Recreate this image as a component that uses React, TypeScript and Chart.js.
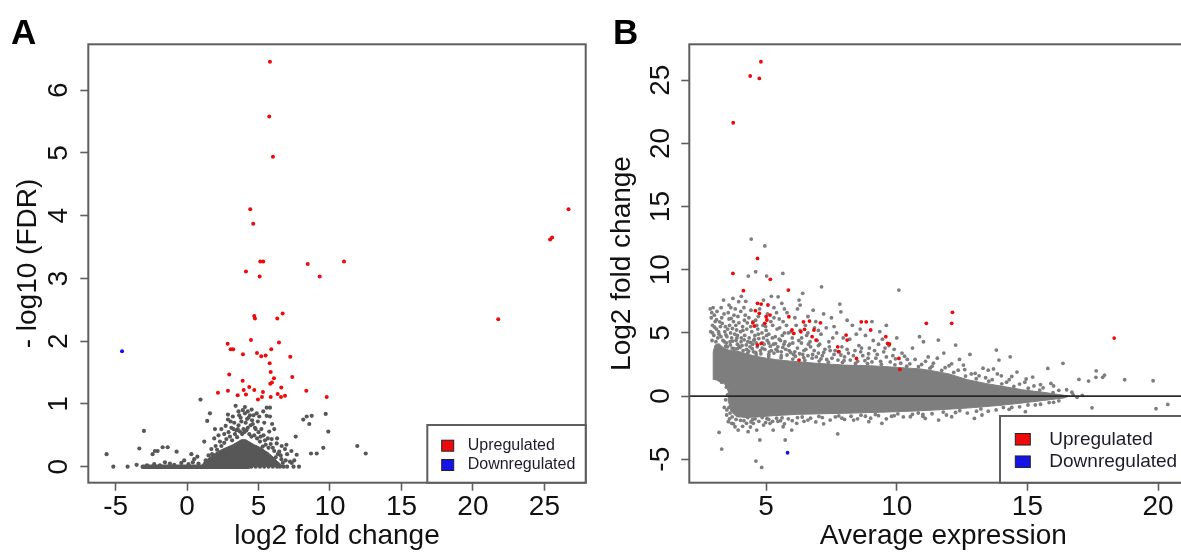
import React, { useEffect, useRef } from 'react';
import { Chart, registerables } from 'chart.js';

Chart.register(...registerables);

type P = [number, number];

// ---------------- Panel A : volcano plot ----------------
const A_X_TICKS = [-5, 0, 5, 10, 15, 20, 25];
const A_Y_TICKS = [0, 1, 2, 3, 4, 5, 6];
const A_X_RANGE: P = [-6.91, 27.89];
const A_Y_RANGE: P = [-0.255, 6.73];
const A_X_TITLE = 'log2 fold change';
const A_Y_TITLE = '- log10 (FDR)';

const A_UP: P[] = [
  [5.80, 6.45], [5.75, 5.58], [6.01, 4.94], [4.42, 4.10], [4.63, 3.87], [5.12, 3.27], [5.33, 3.27],
  [4.12, 3.11], [5.08, 3.03], [8.44, 3.23], [10.98, 3.27], [9.28, 3.03], [26.69, 4.10], [25.40, 3.62],
  [25.54, 3.65], [21.77, 2.35], [4.70, 2.40], [4.75, 2.36], [6.69, 2.44], [6.31, 2.36], [2.84, 1.96],
  [4.47, 2.02], [6.43, 1.98], [3.05, 1.87], [3.23, 1.87], [3.91, 1.79], [4.89, 1.81], [5.19, 1.76],
  [5.50, 1.77], [5.89, 1.87], [7.22, 1.75], [5.78, 1.65], [5.85, 1.51], [2.95, 1.47], [7.36, 1.43],
  [6.08, 1.41], [3.89, 1.37], [5.94, 1.34], [5.82, 1.32], [4.35, 1.27], [3.96, 1.22], [4.70, 1.22],
  [6.59, 1.26], [2.16, 1.18], [2.86, 1.21], [4.12, 1.15], [5.31, 1.19], [8.34, 1.21], [3.54, 1.14],
  [6.34, 1.16], [6.57, 1.11], [6.85, 1.13], [4.96, 1.07], [5.24, 1.11], [5.85, 1.11], [9.77, 1.11],
];
const A_DOWN: P[] = [[-4.55, 1.84]];
const A_NS: P[] = [
  [-5.63, 0.20], [-5.16, 0], [-4.16, 0], [-3.53, 0.03], [-3.34, 0.29], [-3.02, 0.57], [-2.41, 0.20],
  [-2.25, 0.25], [-2.06, 0.25], [-1.71, 0.31], [-1.36, 0.31], [-0.73, 0.24], [0.72, 0.16], [-1.55, 0.07],
  [0.94, 1.07], [1.60, 0.85], [1.41, 0.73], [3.40, 0.97], [5.57, 0.94], [5.80, 0.94], [4.52, 0.91],
  [5.33, 0.88], [2.86, 0.83], [2.86, 0.75], [3.65, 0.82], [4.05, 0.85], [4.40, 0.82], [4.87, 0.85],
  [5.05, 0.80], [5.57, 0.81], [5.80, 0.80], [8.13, 0.75], [8.37, 0.80], [8.72, 0.81], [8.55, 0.68],
  [9.70, 0.84], [9.88, 0.56], [7.60, 0.48], [11.91, 0.33], [12.50, 0.21], [9.53, 0.30], [8.67, 0.21],
  [9.07, 0.21], [7.67, 0.19], [7.83, 0], [7.20, 0.08], [7.32, 0.06], [6.62, 0.33], [6.85, 0.28],
  [6.27, 0.37], [6.45, 0.24], [5.92, 0.44], [5.75, 0.56], [5.45, 0.42], [5.29, 0.32], [5.57, 0.21],
  [3.10, 0.62], [3.30, 0.70], [3.60, 0.66], [3.80, 0.72], [4.10, 0.70], [4.25, 0.62], [4.60, 0.68],
  [4.80, 0.60], [5.00, 0.55], [4.30, 0.78], [3.95, 0.60], [2.60, 0.52], [2.30, 0.40], [2.00, 0.33],
  [1.70, 0.28], [1.50, 0.18], [2.90, 0.55], [3.45, 0.58], [5.15, 0.48], [6.00, 0.30], [6.20, 0.15],
  [6.60, 0.12], [6.90, 0.10], [7.00, 0.20], [1.90, 0.45], [2.20, 0.50],
  [2.1, 0.27], [2.4, 0.33], [2.6, 0.38], [2.75, 0.44], [3.0, 0.48], [3.15, 0.42], [3.35, 0.52], [3.5, 0.47],
  [3.55, 0.6], [3.7, 0.56], [3.75, 0.78], [3.85, 0.52], [3.9, 0.9], [4.0, 0.55], [4.15, 0.58], [4.2, 0.76],
  [4.35, 0.52], [4.45, 0.66], [4.5, 0.48], [4.55, 0.74], [4.7, 0.5], [4.75, 0.62], [4.9, 0.45], [4.95, 0.72],
  [5.1, 0.4], [5.2, 0.6], [5.35, 0.5], [5.5, 0.35], [5.65, 0.45], [5.7, 0.3], [5.85, 0.36], [6.1, 0.25],
  [6.35, 0.2], [6.55, 0.18], [6.7, 0.06], [2.5, 0.2], [1.3, 0.1], [1.75, 0.2], [3.25, 0.6], [4.05, 0.95],
  [4.25, 0.88], [3.6, 0.88], [3.2, 0.8], [2.7, 0.65], [3.05, 0.72], [6.3, 0.45], [6.95, 0.35], [7.3, 0.25],
  [7.5, 0.1], [4.65, 0.82], [5.4, 0.7], [6.1, 0.6], [5.95, 0.68], [2.4, 0.6], [1.95, 0.6], [1.2, 0.4],
  [0.5, 0.12], [-0.2, 0.1], [0.3, 0.2],
  [-2.8, 0.02], [-2.3, 0.04], [-1.9, 0.02], [-1.2, 0.05], [-0.9, 0.03], [-0.4, 0.06], [0.1, 0.04],
  [0.4, 0.07], [0.8, 0.05],
  [4.5, 0], [4.8, 0], [5.1, 0], [5.4, 0], [5.7, 0], [6.0, 0], [6.3, 0], [6.5, 0], [6.75, 0], [7.0, 0], [7.45, 0],
];
// outline of the densest, fully overlapping part of the grey cloud
const A_NS_CORE: P[] = [
  [1.0, 0], [1.2, 0.08], [1.6, 0.15], [2.0, 0.22], [2.4, 0.27], [2.8, 0.31], [3.2, 0.35], [3.5, 0.39],
  [3.8, 0.43], [4.1, 0.43], [4.4, 0.39], [4.7, 0.35], [5.0, 0.32], [5.3, 0.28], [5.6, 0.23], [5.9, 0.18],
  [6.2, 0.11], [6.5, 0.05], [6.7, 0],
];
// run of overlapping genes with FDR = 1
const A_NS_BAND: P[] = [[-3.1, 0], [4.3, 0]];

// ---------------- Panel B : MA plot ----------------
const B_X_TICKS = [5, 10, 15, 20];
const B_Y_TICKS = [-5, 0, 5, 10, 15, 20, 25];
const B_X_RANGE: P = [2.06, 21.5];
const B_Y_RANGE: P = [-6.86, 27.85];
const B_X_TITLE = 'Average expression';
const B_Y_TITLE = 'Log2 fold change';
const B_BASELINE = 0;

const B_UP: P[] = [
  [4.80, 26.47], [4.39, 25.34], [4.74, 25.15], [3.74, 21.64], [4.67, 10.90], [3.73, 9.71], [5.16, 9.24],
  [4.13, 8.34], [5.85, 8.39], [4.67, 7.34], [4.81, 7.28], [5.07, 7.21], [4.59, 6.76], [4.74, 6.55],
  [5.0, 6.28], [5.15, 6.41], [5.87, 6.28], [6.43, 5.88], [6.66, 5.94], [7.08, 5.80], [8.64, 5.88],
  [8.83, 5.88], [9.0, 5.23], [4.49, 5.80], [4.55, 5.54], [5.03, 6.02], [4.95, 5.76], [4.81, 4.17],
  [4.67, 4.04], [5.99, 5.23], [6.06, 4.96], [6.33, 5.09], [6.47, 5.28], [6.83, 5.23], [6.76, 4.70],
  [6.91, 4.43], [7.74, 3.90], [7.77, 3.51], [8.06, 4.83], [8.10, 4.43], [9.58, 4.70], [9.65, 4.17],
  [9.72, 4.12], [6.26, 2.85], [8.46, 2.98], [10.08, 2.98], [10.12, 2.11], [11.13, 5.76], [12.13, 6.63],
  [12.10, 5.76], [18.32, 4.59],
];
const B_DOWN: P[] = [[5.82, -4.49]];
const B_NS: P[] = [
  [2.86, 6.9], [2.92, 6.6], [2.97, 7.0], [3.02, 6.4], [2.9, 6.2], [3.05, 5.9], [2.95, 5.6], [3.1, 5.3],
  [2.88, 5.1], [3.0, 4.8], [3.15, 4.6], [2.93, 4.4], [3.2, 4.9], [3.25, 5.5], [3.12, 6.7], [3.3, 6.2], [3.08, 4.3],
  [3.37, 7.6], [3.58, 7.2], [3.73, 7.73], [3.95, 7.47], [3.22, 5.88], [3.44, 5.49], [3.66, 6.15], [3.87, 5.23],
  [3.5, 4.7], [3.62, 4.3], [3.8, 4.9], [3.9, 4.1], [4.05, 4.6], [4.1, 5.5], [4.2, 6.4], [4.3, 4.3], [4.38, 3.9],
  [4.45, 5.1], [3.45, 3.95], [3.7, 3.8], [4.0, 3.85], [4.25, 3.7], [3.55, 6.6], [3.82, 6.9], [4.15, 7.0],
  [3.35, 4.4], [3.42, 5.1], [3.48, 4.2], [3.6, 5.6], [3.68, 4.6], [3.75, 5.9], [3.85, 4.4], [3.92, 6.3],
  [4.02, 5.1], [4.08, 4.0], [4.18, 4.8], [4.28, 5.8], [4.35, 4.6], [4.42, 6.8], [4.48, 4.1], [3.28, 7.0],
  [3.65, 7.0], [4.05, 7.9], [4.22, 7.5],
  [4.43, 12.43], [4.95, 11.89], [4.32, 9.5], [4.60, 9.84], [5.02, 9.5], [5.64, 9.71], [7.12, 8.65],
  [5.46, 7.86], [5.6, 7.34], [6.26, 7.6], [6.4, 8.13], [7.82, 7.28], [7.86, 6.67], [10.08, 8.39],
  [4.55, 4.5], [4.7, 4.9], [4.85, 3.8], [4.9, 4.6], [5.0, 5.2], [5.1, 4.2], [5.2, 3.6], [5.25, 5.6],
  [5.35, 4.7], [5.45, 3.9], [5.5, 6.1], [5.55, 4.4], [5.7, 5.0], [5.75, 3.7], [5.8, 6.6], [5.9, 4.1],
  [4.6, 6.0], [4.75, 6.9], [5.05, 6.5], [5.3, 7.0], [4.52, 3.5], [4.62, 4.2], [4.68, 5.3], [4.78, 3.6],
  [4.88, 5.6], [4.92, 4.1], [5.02, 4.8], [5.12, 3.5], [5.18, 5.9], [5.28, 4.1], [5.38, 3.7], [5.42, 5.3],
  [5.58, 3.5], [5.62, 4.8], [5.68, 4.1], [5.78, 5.6], [5.88, 3.6], [5.95, 5.1], [4.9, 7.6], [5.2, 7.9],
  [5.7, 6.9], [5.4, 6.6],
  [6.0, 4.6], [6.1, 3.5], [6.15, 5.6], [6.2, 6.9], [6.35, 4.2], [6.45, 3.6], [6.55, 4.8], [6.6, 6.3],
  [6.7, 3.9], [6.85, 5.4], [6.95, 4.4], [7.0, 3.4], [6.05, 3.3], [6.25, 4.4], [6.4, 3.3], [6.5, 5.6],
  [6.62, 4.1], [6.78, 3.3], [6.9, 5.9], [7.05, 4.1], [7.15, 3.2], [7.3, 5.4], [7.45, 3.6], [6.3, 7.2],
  [6.8, 6.8], [7.2, 6.5],
  [7.1, 4.9], [7.25, 3.7], [7.4, 4.3], [7.5, 6.2], [7.6, 3.3], [7.7, 5.0], [7.9, 3.9], [8.0, 3.1],
  [8.2, 4.5], [8.3, 5.6], [8.4, 3.6], [8.55, 4.0], [8.7, 3.2], [8.8, 4.8], [8.95, 3.8], [9.1, 4.4],
  [9.2, 3.0], [9.35, 5.1], [9.5, 3.5], [9.7, 4.0], [9.85, 3.2], [10.0, 4.6], [10.2, 3.4], [8.1, 6.0],
  [9.05, 5.9], [7.55, 4.6], [7.8, 3.5], [7.95, 4.6], [8.15, 3.4], [8.45, 4.9], [8.65, 3.8], [8.9, 3.0],
  [9.15, 3.6], [9.45, 4.5], [9.6, 3.1], [9.9, 3.7], [9.6, 5.6],
  [10.4, 2.9], [10.6, 3.8], [10.87, 4.7], [11.02, 4.3], [11.2, 3.1], [11.4, 2.6], [11.59, 4.43], [11.8, 3.4],
  [12.0, 2.4], [12.25, 4.04], [12.4, 2.9], [12.6, 2.1], [12.8, 3.3], [13.0, 1.8], [13.3, 2.2], [13.5, 2.05],
  [13.7, 2.15], [13.81, 3.64], [13.91, 2.85], [14.34, 3.11], [14.0, 1.6], [14.3, 1.3], [14.6, 1.9],
  [14.9, 1.1], [15.2, 1.5], [15.5, 0.9], [15.78, 2.19], [16.0, 0.8], [16.36, 2.59], [16.5, 0.5], [16.7, 0.3],
  [16.97, 1.32], [17.34, 1.19], [17.63, 2.0], [17.62, 1.48], [17.88, 1.48], [17.95, 1.66], [18.72, 1.29],
  [19.81, 1.21], [17.47, -0.93], [19.92, -1.0], [20.37, -0.66], [16.9, -0.1], [16.75, 0.1], [17.1, 0.05],
  [3.9, 3.75], [4.3, 3.42], [4.62, 3.27], [5.1, 3.12], [5.57, 3.02], [6.02, 2.93], [6.48, 2.82], [7.03, 2.77],
  [7.38, 2.68], [7.92, 2.66], [8.42, 2.58], [8.88, 2.57], [9.41, 2.52], [9.93, 2.47], [10.38, 2.36],
  [10.83, 2.33], [11.27, 2.21], [11.72, 2.04], [12.18, 1.87], [12.63, 1.58], [13.04, 1.37], [13.52, 1.18],
  [14.02, 0.97], [14.48, 0.76], [15.03, 0.62], [15.47, 0.47], [15.98, 0.27],
  [3.4, 4.3], [3.52, 3.9], [3.63, 4.05], [3.72, 4.35], [3.78, 3.75], [3.88, 4.6], [3.97, 3.95], [4.04, 4.3],
  [4.12, 3.6], [4.16, 4.45], [4.24, 4.05], [4.33, 3.55], [4.4, 4.25], [4.47, 3.75], [4.53, 4.4], [4.6, 3.45],
  [4.66, 3.9], [4.72, 4.55], [4.8, 3.35], [4.86, 4.2], [4.95, 3.7], [5.04, 4.4], [5.1, 3.3], [5.16, 3.95],
  [5.24, 4.6], [5.3, 3.4], [5.36, 4.15], [5.44, 3.55], [5.5, 4.5], [5.58, 3.2], [5.64, 3.85], [5.72, 4.3],
  [5.8, 3.25], [5.86, 4.0], [5.94, 3.45], [6.02, 4.2], [6.12, 3.15], [6.2, 3.8], [6.28, 3.35], [6.36, 4.6],
  [6.44, 3.05], [6.52, 3.7], [6.6, 3.2], [6.68, 4.3], [6.76, 3.0], [6.84, 3.6], [6.92, 3.1], [7.0, 4.0],
  [7.1, 2.95], [7.2, 3.45], [7.32, 2.9], [7.42, 3.9], [7.52, 3.0], [7.64, 3.6], [7.75, 2.85], [7.86, 3.25],
  [7.98, 2.8], [8.1, 3.7], [8.22, 2.85], [8.34, 3.2], [8.5, 2.75], [8.62, 3.5], [8.78, 2.8], [8.92, 3.35],
  [9.05, 2.7], [9.25, 3.3], [9.38, 2.75], [9.55, 3.8], [9.75, 2.7], [9.95, 2.95], [10.15, 2.6], [10.3, 3.15],
  [10.5, 2.55], [10.7, 2.9], [10.95, 2.5], [11.1, 2.75], [11.35, 2.35], [11.55, 3.0], [11.85, 2.25],
  [12.1, 2.55], [12.35, 2.05], [12.55, 2.45], [12.85, 1.75], [13.15, 1.6], [13.4, 1.45], [13.65, 1.3],
  [13.85, 1.75], [14.2, 1.1], [14.4, 1.55], [14.7, 0.95], [14.95, 1.35], [15.25, 0.8], [15.6, 0.65],
  [15.9, 1.0], [16.2, 0.45],
  [2.95, 5.0], [3.03, 5.45], [3.1, 6.05], [3.18, 5.1], [3.27, 4.7], [3.32, 5.75], [3.39, 6.5], [3.46, 4.85],
  [3.53, 5.3], [3.58, 6.1], [3.64, 5.0], [3.71, 5.35], [3.77, 6.4], [3.84, 5.6], [3.9, 4.8], [3.96, 5.8],
  [4.03, 6.7], [4.11, 5.2], [4.17, 6.0], [4.26, 5.3], [4.34, 6.2], [4.41, 5.5], [4.5, 5.9], [4.57, 4.8],
  [4.64, 5.6], [4.7, 6.3], [4.84, 5.0], [4.98, 5.5], [5.1, 4.9], [5.3, 6.2], [5.52, 5.4], [5.65, 5.9],
  [5.85, 5.0], [6.1, 6.2], [6.3, 5.2], [6.6, 5.0], [7.0, 5.2], [7.6, 5.5], [8.6, 5.3], [9.3, 4.1],
  [4.02, -1.92], [4.48, -1.86], [5.03, -1.79], [5.61, -1.72], [6.38, -1.66], [7.02, -1.61], [7.78, -1.57],
  [8.63, -1.51], [9.18, -1.46], [10.04, -1.41], [10.82, -1.34], [11.78, -1.27], [12.41, -1.16],
  [13.22, -1.02], [14.08, -0.91], [15.02, -0.71], [15.83, -0.52],
  [3.62, -1.35], [3.7, -1.65], [3.85, -1.85], [3.95, -1.55], [4.15, -1.95], [4.3, -1.7], [4.42, -2.05],
  [4.58, -1.8], [4.72, -2.0], [4.85, -1.7], [4.98, -2.1], [5.1, -1.85], [5.25, -2.0], [5.4, -1.75],
  [5.55, -1.95], [5.7, -2.2], [5.85, -1.8], [6.0, -1.95], [6.2, -1.7], [6.45, -2.0], [6.7, -1.75],
  [6.9, -2.05], [7.15, -1.7], [7.45, -1.9], [7.65, -1.65], [8.0, -1.85], [8.25, -1.6], [8.5, -1.8],
  [8.8, -1.6], [9.0, -1.75], [9.3, -1.55], [9.6, -1.8], [9.9, -1.55], [10.25, -1.65], [10.6, -1.45],
  [11.0, -1.6], [11.35, -1.4], [11.9, -1.5], [12.25, -1.3], [12.7, -1.35], [13.05, -1.2], [13.5, -1.2],
  [14.3, -1.05], [14.7, -0.85], [15.5, -0.65], [16.2, -0.38], [3.58, -0.9], [3.52, 0.1], [3.48, 0.7], [3.3, 1.1],
  [3.20, -2.88], [3.30, -4.20], [4.76, -3.48], [5.73, -3.48], [4.61, -5.15], [4.83, -5.65], [3.49, -1.5],
  [3.55, -2.03], [3.68, -2.16], [3.81, -2.43], [3.93, -2.69], [4.25, -2.16], [4.31, -2.82], [4.51, -2.16],
  [4.64, -2.69], [5.15, -2.16], [5.27, -2.69], [5.65, -2.43], [5.98, -2.69], [6.17, -2.16], [7.74, -3.0],
  [8.35, -1.9], [8.93, -2.03], [9.43, -2.16], [10.52, -1.64], [11.09, -1.77], [11.6, -1.9], [12.1, -1.64],
  [12.97, -1.77], [13.26, -1.5], [14.92, -1.24], [3.4, -0.9], [3.45, -0.3], [6.6, -1.9], [7.2, -2.2],
  [7.9, -1.75], [9.8, -1.6], [11.0, -1.45], [13.8, -1.1], [14.4, -0.9], [15.3, -0.7], [16.0, -0.5],
  [3.6, -1.8], [3.75, -2.2], [3.5, -1.1], [4.1, -2.4], [4.4, -2.45], [4.9, -2.3], [5.45, -2.0],
];
// outline of the solid, fully overlapping part of the grey cloud
const B_NS_CLOUD: P[] = [
  [3.0, 1.3], [2.97, 2.4], [2.98, 3.5], [3.05, 4.05], [3.2, 4.15], [3.35, 3.85], [3.55, 3.65], [3.8, 3.6],
  [4.0, 3.5], [4.5, 3.2], [5.0, 3.0], [5.5, 2.85], [6.0, 2.75], [6.9, 2.6], [8.0, 2.45], [9.0, 2.4],
  [9.8, 2.3], [10.9, 2.15], [11.5, 1.95], [12.0, 1.75], [12.7, 1.3], [13.4, 1.0], [14.1, 0.75], [14.8, 0.5],
  [15.6, 0.3], [16.2, 0.12], [16.6, 0.0], [16.4, -0.15], [15.6, -0.35], [14.8, -0.55], [13.9, -0.75],
  [12.7, -0.95], [11.5, -1.1], [10.5, -1.2], [9.4, -1.28], [8.3, -1.35], [7.2, -1.4], [6.2, -1.45],
  [5.3, -1.55], [4.7, -1.65], [4.2, -1.7], [3.85, -1.6], [3.65, -1.2], [3.57, -0.5], [3.55, 0.4],
  [3.4, 1.0], [3.15, 1.2],
];

const LEGEND_LABELS = ['Upregulated', 'Downregulated'];

// ---------------- styles ----------------
const FONT = "'Liberation Sans', Arial, Helvetica, sans-serif";
const RED = '#ee0a0a';
const BLUE = '#1414e6';
const A_GREY = '#575757';
const B_GREY = '#7e7e7e';
const FRAME = '#5e5e5e';
const TEXT = '#111111';

const toXY = (arr: P[]) => arr.map(([x, y]) => ({ x, y }));

interface LegendBox {
  width: number; height: number; boxX: number; boxW: number; boxH: number;
  textX: number; rows: number[]; fontSize: number;
}

function framePlugin(legend: LegendBox, hLine?: number) {
  return {
    id: 'frame',
    afterDatasetsDraw(chart: any) {
      const { ctx, chartArea: a } = chart;
      ctx.save();
      if (typeof hLine === 'number') {
        const y = chart.scales.y.getPixelForValue(hLine);
        ctx.beginPath();
        ctx.moveTo(a.left, y);
        ctx.lineTo(a.right, y);
        ctx.strokeStyle = '#2a2a2a';
        ctx.lineWidth = 1.8;
        ctx.stroke();
      }
      ctx.strokeStyle = FRAME;
      ctx.lineWidth = 2;
      ctx.strokeRect(a.left, a.top, a.right - a.left, a.bottom - a.top);
      const left = a.right - legend.width;
      const top = a.bottom - legend.height;
      ctx.fillStyle = '#ffffff';
      ctx.fillRect(left, top, legend.width, legend.height);
      ctx.strokeRect(left, top, legend.width, legend.height);
      const items = LEGEND_LABELS.map((l) => chart.data.datasets.find((d: any) => d.label === l)).filter(Boolean);
      items.forEach((d: any, i: number) => {
        const cy = top + legend.rows[i];
        ctx.fillStyle = d.backgroundColor;
        ctx.fillRect(left + legend.boxX, cy - legend.boxH / 2, legend.boxW, legend.boxH);
        ctx.lineWidth = 1;
        ctx.strokeStyle = '#222222';
        ctx.strokeRect(left + legend.boxX, cy - legend.boxH / 2, legend.boxW, legend.boxH);
        ctx.fillStyle = '#1c1c2a';
        ctx.font = `${legend.fontSize}px ${FONT}`;
        ctx.textAlign = 'left';
        ctx.textBaseline = 'middle';
        ctx.fillText(d.label, left + legend.textX, cy);
      });
      ctx.restore();
    },
  };
}

interface PanelSpec {
  datasets: any[];
  xRange: P; yRange: P; xTicks: number[]; yTicks: number[];
  xTitle: string; yTitle: string;
  padTop: number; padRight: number; yAxisWidth: number; xAxisHeight: number;
  yTickPad: number; yTitlePad: number; xTitlePad: number;
  legend: LegendBox; hLine?: number;
}

function buildConfig(s: PanelSpec): any {
  const tickFont = { family: FONT, size: 28 };
  const titleFont = { family: FONT, size: 28 };
  const grid = { drawOnChartArea: false, drawTicks: true, tickLength: 8, tickColor: FRAME, tickWidth: 1.6 };
  return {
    type: 'scatter',
    data: { datasets: s.datasets },
    options: {
      animation: false,
      responsive: false,
      events: [],
      layout: { padding: { left: 0, top: s.padTop, right: s.padRight, bottom: 0 } },
      plugins: { legend: { display: false }, tooltip: { enabled: false }, title: { display: false } },
      scales: {
        x: {
          type: 'linear', min: s.xRange[0], max: s.xRange[1],
          afterBuildTicks: (sc: any) => { sc.ticks = s.xTicks.map((value) => ({ value })); },
          afterFit: (sc: any) => { sc.height = s.xAxisHeight; },
          border: { display: false },
          grid,
          ticks: { font: tickFont, color: TEXT, padding: 0, maxRotation: 0, autoSkip: false },
          title: { display: true, text: s.xTitle, font: titleFont, color: TEXT, padding: { top: 0, bottom: s.xTitlePad } },
        },
        y: {
          type: 'linear', min: s.yRange[0], max: s.yRange[1],
          afterBuildTicks: (sc: any) => { sc.ticks = s.yTicks.map((value) => ({ value })); },
          afterFit: (sc: any) => { sc.width = s.yAxisWidth; },
          border: { display: false },
          grid,
          ticks: { font: tickFont, color: TEXT, padding: s.yTickPad, minRotation: 90, maxRotation: 90, crossAlign: 'center', autoSkip: false },
          title: { display: true, text: s.yTitle, font: titleFont, color: TEXT, padding: { top: s.yTitlePad, bottom: 0 } },
        },
      },
    },
    plugins: [framePlugin(s.legend, s.hLine)],
  };
}

function specA(): PanelSpec {
  return {
    datasets: [
      { label: 'Upregulated', data: toXY(A_UP), backgroundColor: RED, pointRadius: 2.0, borderWidth: 0 },
      { label: 'Downregulated', data: toXY(A_DOWN), backgroundColor: BLUE, pointRadius: 2.0, borderWidth: 0 },
      { label: 'Not significant', data: toXY(A_NS), backgroundColor: A_GREY, pointRadius: 2.1, borderWidth: 0 },
      { type: 'line', label: 'Not significant (dense)', data: toXY(A_NS_CORE), fill: 'shape', backgroundColor: A_GREY, borderColor: A_GREY, borderWidth: 1, pointRadius: 0 },
      { type: 'line', label: 'Not significant (FDR 1)', data: toXY(A_NS_BAND), fill: false, borderColor: A_GREY, borderWidth: 4.5, borderCapStyle: 'round', pointRadius: 0 },
    ],
    xRange: A_X_RANGE, yRange: A_Y_RANGE, xTicks: A_X_TICKS, yTicks: A_Y_TICKS,
    xTitle: A_X_TITLE, yTitle: A_Y_TITLE,
    padTop: 44.3, padRight: 14.3, yAxisWidth: 88.3, xAxisHeight: 77.3,
    yTickPad: 13.5, yTitlePad: 11.5, xTitlePad: 7.2,
    legend: { width: 158.4, height: 57.7, boxX: 14.4, boxW: 12, boxH: 11, textX: 40.4, rows: [20.7, 40], fontSize: 16 },
  };
}

function specB(): PanelSpec {
  return {
    datasets: [
      { label: 'Upregulated', data: toXY(B_UP), backgroundColor: RED, pointRadius: 1.9, borderWidth: 0 },
      { label: 'Downregulated', data: toXY(B_DOWN), backgroundColor: BLUE, pointRadius: 1.9, borderWidth: 0 },
      { label: 'Not significant', data: toXY(B_NS), backgroundColor: B_GREY, pointRadius: 1.9, borderWidth: 0 },
      { type: 'line', label: 'Not significant (dense)', data: toXY(B_NS_CLOUD), fill: 'shape', backgroundColor: B_GREY, borderColor: B_GREY, borderWidth: 1, pointRadius: 0 },
    ],
    xRange: B_X_RANGE, yRange: B_Y_RANGE, xTicks: B_X_TICKS, yTicks: B_Y_TICKS,
    xTitle: B_X_TITLE, yTitle: B_Y_TITLE,
    padTop: 44.3, padRight: 12.7, yAxisWidth: 99.3, xAxisHeight: 77.3,
    yTickPad: 4.9, yTitlePad: 15.2, xTitlePad: 7.2,
    legend: { width: 197.3, height: 66.7, boxX: 15.3, boxW: 15, boxH: 11.5, textX: 49.3, rows: [23.3, 45.7], fontSize: 19 },
    hLine: B_BASELINE,
  };
}

export default function App() {
  const refA = useRef<HTMLCanvasElement>(null);
  const refB = useRef<HTMLCanvasElement>(null);
  useEffect(() => {
    const a = new Chart(refA.current as HTMLCanvasElement, buildConfig(specA()));
    const b = new Chart(refB.current as HTMLCanvasElement, buildConfig(specB()));
    return () => { a.destroy(); b.destroy(); };
  }, []);
  const letter: React.CSSProperties = { position: 'absolute', top: 14, font: `bold 35px ${FONT}`, lineHeight: '35px', color: '#000' };
  return (
    <div style={{ position: 'absolute', left: 0, top: 0, width: 1181, height: 560, overflow: 'hidden', background: '#fff' }}>
      <canvas ref={refA} width={600} height={560} style={{ position: 'absolute', left: 0, top: 0, width: 600, height: 560 }} />
      <canvas ref={refB} width={620} height={560} style={{ position: 'absolute', left: 590, top: 0, width: 620, height: 560 }} />
      <div style={{ ...letter, left: 11 }}>A</div>
      <div style={{ ...letter, left: 613 }}>B</div>
    </div>
  );
}
